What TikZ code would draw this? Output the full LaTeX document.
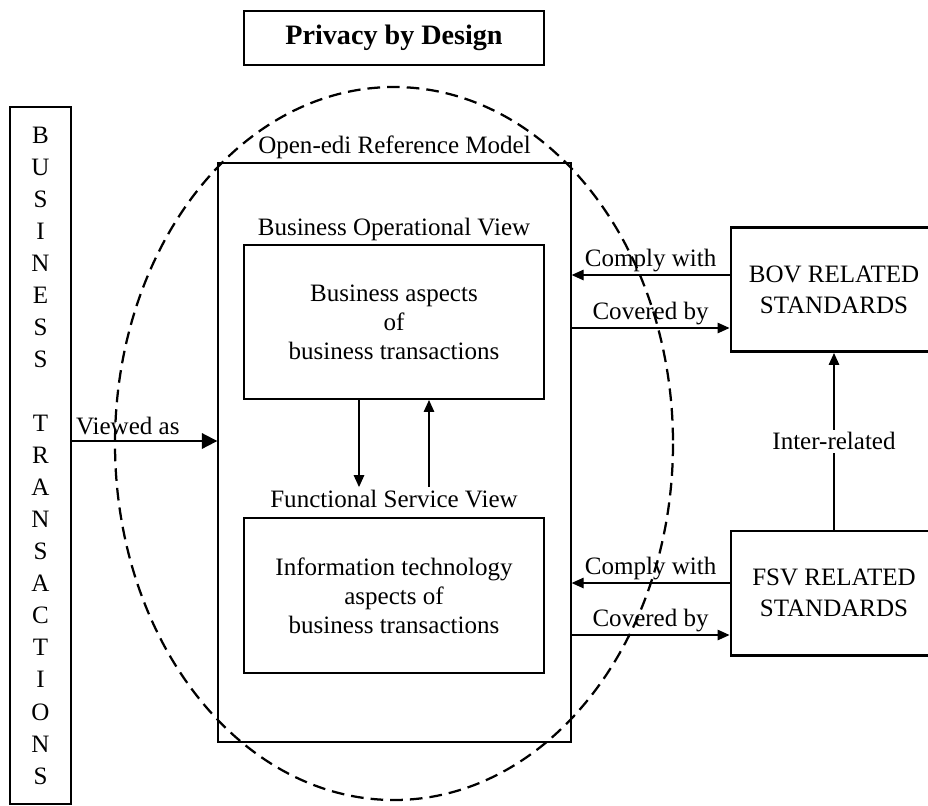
\documentclass[tikz,border=0pt]{standalone}
\usepackage{fontspec}
\setmainfont{Liberation Serif}
\usepackage{tikz}
\usetikzlibrary{positioning,calc,arrows.meta}

\tikzset{
  txt/.style={font=\fontsize{17.8}{20.6}\selectfont, align=center},
  viewbox/.style={draw, line width=1.4pt, minimum width=7.5cm, minimum height=3.85cm, txt},
  stdbox/.style={draw, line width=2.1pt, minimum width=5.15cm, minimum height=3.1cm, txt, font=\fontsize{17.8}{22}\selectfont},
  lbl/.style={inner sep=2pt, txt},
  arr/.style={-{Triangle[length=8.5pt,width=7.5pt]}, line width=0.85pt},
  bigarr/.style={-{Triangle[length=11pt,width=11pt]}, line width=1.4pt}
}

\begin{document}
\begin{tikzpicture}[x=0.025cm, y=-0.025cm]
  \useasboundingbox (0,0) rectangle (928,805);

  % Privacy by Design
  \node[draw, line width=1.4pt, minimum width=7.5cm, minimum height=1.35cm, txt, font=\fontsize{20}{24}\selectfont\bfseries] (pbd) at (394,38) {Privacy by Design};

  % dashed ellipse round the model
  \draw[line width=1.6pt, dash pattern=on 9pt off 5pt] (394,443.5) ellipse [x radius=279, y radius=356.5];

  % Open-edi Reference Model
  \node[draw, line width=0.9pt, minimum width=8.825cm, minimum height=14.475cm] (oedi) at (394.5,452.5) {};
  \node[lbl, above=0pt of oedi] (oedilbl) {Open-edi Reference Model};

  % the two views
  \node[viewbox] (bov) at (394,322) {Business aspects\\of\\business transactions};
  \node[lbl, above=0pt of bov] (bovlbl) {Business Operational View};
  \node[viewbox, minimum height=3.875cm] (fsv) at (394,595.5) {Information technology\\aspects of\\business transactions};
  \node[lbl, above=0.15cm of fsv] (fsvlbl) {Functional Service View};
  \draw[arr] ($(bov.south)+(-35,0)$) -- ($(fsvlbl.north)+(-35,0)$);
  \draw[arr] ($(fsvlbl.north)+(35,0)$) -- ($(bov.south)+(35,0)$);

  % Business transactions
  \node[draw, line width=1.8pt, minimum width=1.525cm, minimum height=17.425cm, txt, font=\fontsize{17.8}{22.8}\selectfont] (bt) at (40.5,455.5)
    {B\\U\\S\\I\\N\\E\\S\\S\\[0.8cm]T\\R\\A\\N\\S\\A\\C\\T\\I\\O\\N\\S};
  \coordinate (va) at ($(oedi.west)+(0,-11.5)$);
  \draw[bigarr] (va -| bt.east) -- (va) node[lbl, pos=0, above right, yshift=2pt] (valbl) {Viewed as};

  % related standards
  \node[stdbox] (bovstd) at (834,289.5) {BOV RELATED\\STANDARDS};
  \node[stdbox] (fsvstd) at (834,593) {FSV RELATED\\STANDARDS};

  \coordinate (bc) at ($(bovstd.west)+(0,-14.5)$);
  \coordinate (bv) at ($(bovstd.west)+(0,38.5)$);
  \draw[arr] (bc) -- (bc -| oedi.east) node[lbl, midway, above] (bclbl) {Comply with};
  \draw[arr] (bv -| oedi.east) -- (bv) node[lbl, midway, above] (bvlbl) {Covered by};

  \coordinate (fc) at ($(fsvstd.west)+(0,-10)$);
  \coordinate (fv) at ($(fsvstd.west)+(0,42)$);
  \draw[arr] (fc) -- (fc -| oedi.east) node[lbl, midway, above] (fclbl) {Comply with};
  \draw[arr] (fv -| oedi.east) -- (fv) node[lbl, midway, above] (fvlbl) {Covered by};

  \draw[arr] (fsvstd) -- (bovstd) node[lbl, midway, fill=white] (irlbl) {Inter-related};
\end{tikzpicture}
\end{document}
